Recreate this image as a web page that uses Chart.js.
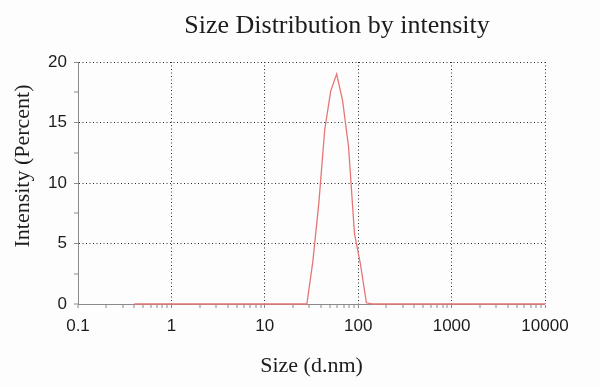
<!DOCTYPE html>
<html>
<head>
<meta charset="utf-8">
<script src="https://cdn.jsdelivr.net/npm/chart.js@4.4.1/dist/chart.umd.min.js"></script>
<style>
  html, body { margin: 0; padding: 0; background: #fdfdfd; }
  #wrap { width: 600px; height: 387px; position: relative; }
</style>
</head>
<body>
<div id="wrap"><canvas id="c" width="600" height="387"></canvas></div>
<script>
// ---- data ----
const chartTitle = 'Size Distribution by intensity';
const xAxisTitle = 'Size (d.nm)';
const yAxisTitle = 'Intensity (Percent)';

const sizes = [
  0.4, 0.4632, 0.5365, 0.6213, 0.7195, 0.8332, 0.9649,
  1.117, 1.294, 1.499, 1.736, 2.010, 2.328, 2.696, 3.122, 3.615, 4.187, 4.849, 5.615, 6.503, 7.531, 8.721,
  10.10, 11.70, 13.54, 15.69, 18.17, 21.04, 24.36, 28.21, 32.67, 37.84, 43.82, 50.75, 58.77, 68.06, 78.82, 91.28,
  105.7, 122.4, 141.8, 164.2, 190.1, 220.2, 255.0, 295.3, 342.0, 396.1, 458.7, 531.2, 615.1, 712.4, 825.0, 955.4,
  1106, 1281, 1484, 1718, 1990, 2305, 2669, 3091, 3580, 4145, 4801, 5560, 6439, 7456, 8635, 10000
];
const intensity = [
  0, 0, 0, 0, 0, 0, 0,
  0, 0, 0, 0, 0, 0, 0, 0, 0, 0, 0, 0, 0, 0, 0,
  0, 0, 0, 0, 0, 0, 0, 0, 3.5, 8.3, 14.4, 17.6, 19.0, 16.8, 13.0, 5.8,
  3.3, 0.1, 0, 0, 0, 0, 0, 0, 0, 0, 0, 0, 0, 0, 0, 0,
  0, 0, 0, 0, 0, 0, 0, 0, 0, 0, 0, 0, 0, 0, 0, 0
];
const xTickLabels = ['0.1', '1', '10', '100', '1000', '10000'];
const xMinorSteps = [1, 2, 3, 4, 5, 6, 7, 8, 9];
const yTickLabels = ['0', '5', '10', '15', '20'];

// ---- helpers ----
const near = (a, b) => Math.abs(a - b) < 1e-9 * Math.max(1, Math.abs(b));
const isXMajor = v => xTickLabels.some(l => near(v, parseFloat(l)));
const isYMajor = v => yTickLabels.some(l => near(v, parseFloat(l)));
const GRID = '#2a2a2a';
const AXIS = '#8a8a8a';

const xTickValues = [];
xTickLabels.forEach((l, i) => {
  const d = parseFloat(l);
  if (i < xTickLabels.length - 1) xMinorSteps.forEach(m => xTickValues.push(parseFloat((d * m).toPrecision(6))));
  else xTickValues.push(d);
});

const textPlugin = {
  id: 'extraTexts',
  afterDraw(chart) {
    const ctx = chart.ctx;
    ctx.save();
    ctx.fillStyle = '#1c1c1c';
    ctx.textAlign = 'center';
    ctx.textBaseline = 'middle';
    ctx.font = '26px "Liberation Serif"';
    ctx.fillText(chartTitle, 337, 26);
    ctx.translate(23, 166);
    ctx.rotate(-Math.PI / 2);
    ctx.font = '22px "Liberation Serif"';
    ctx.fillText(yAxisTitle, 0, 0);
    ctx.restore();
  }
};

const points = sizes.map((s, i) => ({ x: s, y: intensity[i] }));

new Chart(document.getElementById('c'), {
  type: 'line',
  data: {
    datasets: [{
      data: points,
      borderColor: 'rgb(230,118,118)',
      borderWidth: 1.3,
      pointRadius: 0,
      tension: 0,
      fill: false,
      clip: 4
    }]
  },
  options: {
    responsive: false,
    animation: false,
    devicePixelRatio: 1,
    layout: { padding: { left: 0, right: 55, top: 62, bottom: 0 } },
    plugins: { legend: { display: false }, title: { display: false }, tooltip: { enabled: false } },
    scales: {
      x: {
        type: 'logarithmic',
        min: 0.1,
        max: 10000,
        afterBuildTicks: s => { s.ticks = xTickValues.map(v => ({ value: v, major: isXMajor(v) })); },
        afterFit: s => { s.height = 83; },
        grid: {
          color: ctx => (ctx.tick && isXMajor(ctx.tick.value)) ? GRID : 'rgba(0,0,0,0)',
          lineWidth: ctx => (ctx.tick && isXMajor(ctx.tick.value) && !near(ctx.tick.value, 0.1)) ? 1 : 0,
          tickColor: AXIS,
          tickWidth: 1,
          tickLength: 4
        },
        border: { display: true, color: AXIS, width: 1, dash: [1, 2.5] },
        ticks: {
          autoSkip: false,
          maxRotation: 0,
          minRotation: 0,
          padding: 8,
          color: '#1c1c1c',
          font: { family: '"Liberation Sans"', size: 17 },
          callback: (v) => { const i = xTickLabels.findIndex(l => near(v, parseFloat(l))); return i >= 0 ? xTickLabels[i] : ''; }
        },
        title: {
          display: true,
          text: xAxisTitle,
          color: '#1c1c1c',
          font: { family: '"Liberation Serif"', size: 22 },
          padding: { top: 0, bottom: 8 }
        }
      },
      y: {
        min: 0,
        max: 20,
        afterFit: s => { s.width = 78; },
        grid: {
          color: ctx => (ctx.tick && isYMajor(ctx.tick.value)) ? GRID : 'rgba(0,0,0,0)',
          lineWidth: ctx => (ctx.tick && isYMajor(ctx.tick.value) && ctx.tick.value !== 0) ? 1 : 0,
          tickColor: AXIS,
          tickWidth: 1,
          tickLength: 4
        },
        border: { display: true, color: AXIS, width: 1, dash: [1, 2.5] },
        ticks: {
          stepSize: 2.5,
          autoSkip: false,
          padding: 7,
          color: '#1c1c1c',
          font: { family: '"Liberation Sans"', size: 17 },
          callback: (v) => { const i = yTickLabels.findIndex(l => near(v, parseFloat(l))); return i >= 0 ? yTickLabels[i] : ''; }
        }
      }
    }
  },
  plugins: [textPlugin]
});
</script>
</body>
</html>
